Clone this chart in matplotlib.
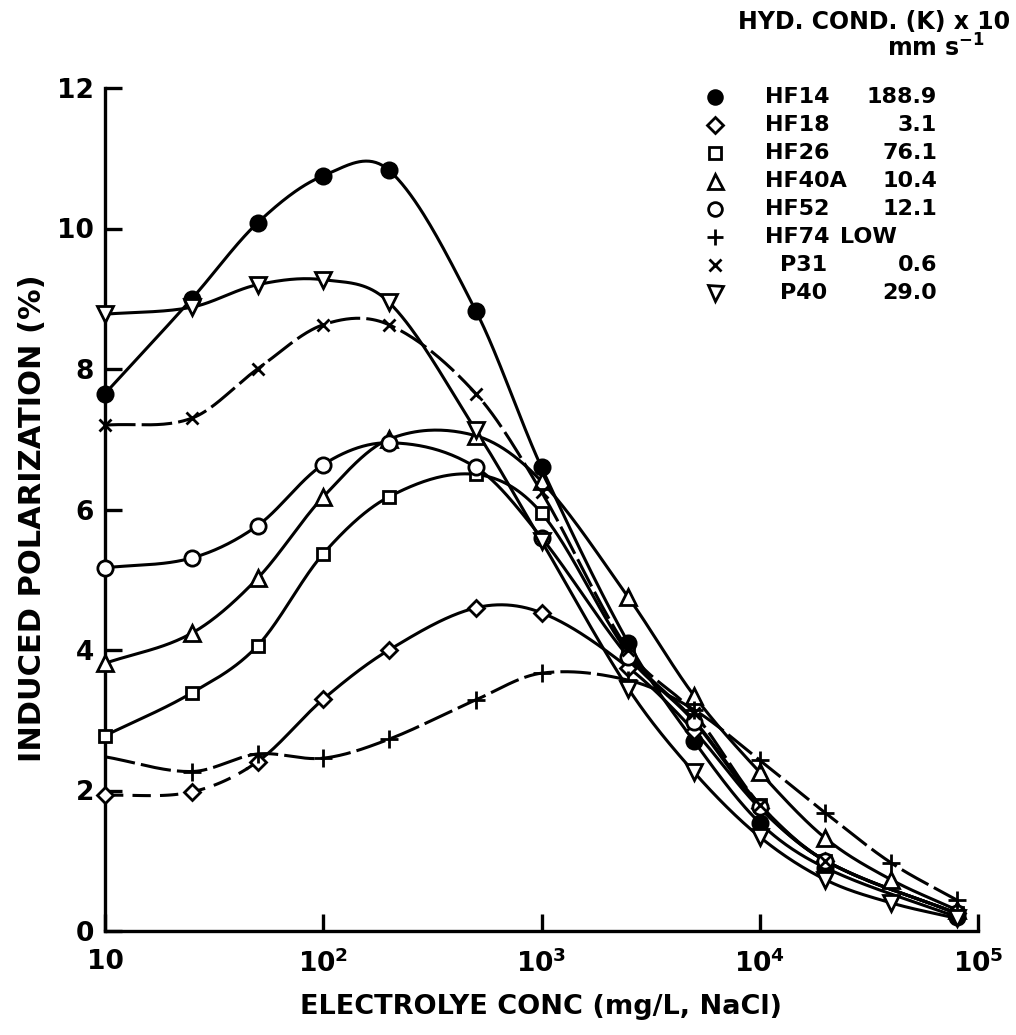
import numpy as np
import matplotlib
matplotlib.use("Agg")
import matplotlib.pyplot as plt
from matplotlib.ticker import FixedLocator, NullLocator

# concentration steps (mg/L NaCl)
conc = [10, 25, 50, 100, 200, 500, 1000, 2500, 5000, 10000, 20000, 40000, 80000]
nan = np.nan

# induced polarization (%)
hf14 = [7.65, 9.0, 10.08, 10.75, 10.83, 8.83, 6.6, 4.1, 2.7, 1.54, 0.9, nan, 0.2]
hf18 = [1.93, 1.98, 2.41, 3.3, 4.0, 4.6, 4.53, 3.75, 2.85, 1.75, 1.0, nan, 0.25]
hf26 = [2.78, 3.39, 4.06, 5.37, 6.18, 6.5, 5.95, 3.95, 3.0, 1.8, 1.0, nan, 0.25]
hf40a = [3.81, 4.24, 5.02, 6.18, 7.0, 7.05, 6.4, 4.75, 3.35, 2.26, 1.32, 0.73, 0.3]
hf52 = [5.17, 5.31, 5.77, 6.64, 6.95, 6.6, 5.6, 3.9, 2.98, 1.77, 1.0, nan, 0.25]
hf74 = [2.48, 2.27, 2.52, 2.46, 2.73, 3.29, 3.67, 3.57, 3.15, 2.43, 1.68, 0.97, 0.44]
p31 = [7.2, 7.3, 8.0, 8.63, 8.63, 7.65, 6.25, 4.0, 3.1, 1.8, 1.0, nan, 0.25]
p40 = [8.78, 8.88, 9.2, 9.27, 8.95, 7.13, 5.55, 3.45, 2.26, 1.34, 0.73, 0.4, 0.18]

samples = ["HF14", "HF18", "HF26", "HF40A", "HF52", "HF74", "P31", "P40"]
hyd_cond = ["188.9", "3.1", "76.1", "10.4", "12.1", "LOW", "0.6", "29.0"]

series = [hf14, hf18, hf26, hf40a, hf52, hf74, p31, p40]
markers = ["o", "D", "s", "^", "o", "+", "x", "v"]
filled = [True, False, False, False, False, False, False, False]
msizes = [11, 8.5, 9, 12, 11, 13, 9, 12]

plt.rcParams['font.family'] = ['DejaVu Sans']
plt.rcParams['font.weight'] = 'bold'
plt.rcParams['axes.labelweight'] = 'bold'
plt.rcParams['mathtext.default'] = 'bf'


def smooth_curve(xs, ys, n=40):
    # cubic hermite through the points in log-x space, for drawing only
    t = np.log10(np.asarray(xs, float))
    y = np.asarray(ys, float)
    m = np.zeros_like(y)
    m[0] = (y[1] - y[0]) / (t[1] - t[0])
    m[-1] = (y[-1] - y[-2]) / (t[-1] - t[-2])
    m[1:-1] = (y[2:] - y[:-2]) / (t[2:] - t[:-2])
    tt, yy = [], []
    for i in range(len(t) - 1):
        h = t[i + 1] - t[i]
        s = np.linspace(0, 1, n, endpoint=(i == len(t) - 2))
        h00 = 2 * s**3 - 3 * s**2 + 1
        h10 = s**3 - 2 * s**2 + s
        h01 = -2 * s**3 + 3 * s**2
        h11 = s**3 - s**2
        tt.append(t[i] + s * h)
        yy.append(h00 * y[i] + h10 * h * m[i] + h01 * y[i + 1] + h11 * h * m[i + 1])
    return 10 ** np.concatenate(tt), np.concatenate(yy)


fig = plt.figure(figsize=(10.16, 10.35), dpi=100)
ax = fig.add_axes([105 / 1016, 1 - 931 / 1035, (978 - 105) / 1016, (931 - 88) / 1035])
ax.set_xscale("log")
ax.set_xlim(10, 1e5)
ax.set_ylim(0, 12)

lw = 2.2
for name, ys, mk, fl, ms in zip(samples, series, markers, filled, msizes):
    ys = np.asarray(ys, float)
    ok = ~np.isnan(ys)
    xc = np.asarray(conc, float)[ok]
    cx, cy = smooth_curve(xc, ys[ok])
    if name == "HF18":
        cut = np.searchsorted(cx, 45)
        ax.plot(cx[:cut + 1], cy[:cut + 1], color="black", lw=lw, dashes=(6, 3), zorder=2)
        ax.plot(cx[cut:], cy[cut:], color="black", lw=lw, zorder=2)
    elif name in ("HF74", "P31"):
        ax.plot(cx, cy, color="black", lw=lw, dashes=(10, 2), zorder=2)
    else:
        ax.plot(cx, cy, color="black", lw=lw, zorder=2)
    mx, my = xc, ys[ok]
    if name == "HF74":
        mx, my = mx[1:], my[1:]
    ax.plot(mx, my, ls="none", marker=mk, ms=ms,
            mfc="black" if fl else "white", mec="black", mew=2.0, zorder=3,
            clip_on=False)

for sp in ("top", "right"):
    ax.spines[sp].set_visible(False)
for sp in ("left", "bottom"):
    ax.spines[sp].set_linewidth(2.4)

ax.xaxis.set_major_locator(FixedLocator([10, 1e2, 1e3, 1e4, 1e5]))
ax.xaxis.set_minor_locator(NullLocator())
ax.set_xticklabels(["10", "10$^2$", "10$^3$", "10$^4$", "10$^5$"])
ax.set_yticks([0, 2, 4, 6, 8, 10, 12])
ax.tick_params(direction="in", length=12, width=2.4, labelsize=19, pad=13)
ax.tick_params(axis="y", pad=8)

ax.set_xlabel("ELECTROLYE CONC (mg/L, NaCl)", fontsize=19.5, fontweight="bold", labelpad=12)
ax.set_ylabel("INDUCED POLARIZATION (%)", fontsize=22, fontweight="bold")
ax.yaxis.set_label_coords(-0.066, 0.49)

# key in the upper right corner
fig.text(1010 / 1016, 1 - 22 / 1035, "HYD. COND. (K) x 10", fontsize=17,
         ha="right", va="center")
fig.text(985 / 1016, 1 - 48 / 1035, "mm s$^{-1}$", fontsize=17,
         ha="right", va="center")
for i, (name, val, mk, fl, ms) in enumerate(zip(samples, hyd_cond, markers, filled, msizes)):
    ypix = 97 + 28 * i
    yf = 1 - ypix / 1035
    fig.lines.append(plt.Line2D([715 / 1016], [yf], transform=fig.transFigure,
                                marker=mk, ms=ms * 0.9, mfc="black" if fl else "white",
                                mec="black", mew=2.0, ls="none"))
    xn = 780 if name.startswith("P") else 765
    fig.text(xn / 1016, yf, name, fontsize=16, ha="left", va="center")
    if val == "LOW":
        fig.text(840 / 1016, yf, val, fontsize=16, ha="left", va="center")
    else:
        fig.text(937 / 1016, yf, val, fontsize=16, ha="right", va="center")

fig.savefig("out.png", dpi=100)
